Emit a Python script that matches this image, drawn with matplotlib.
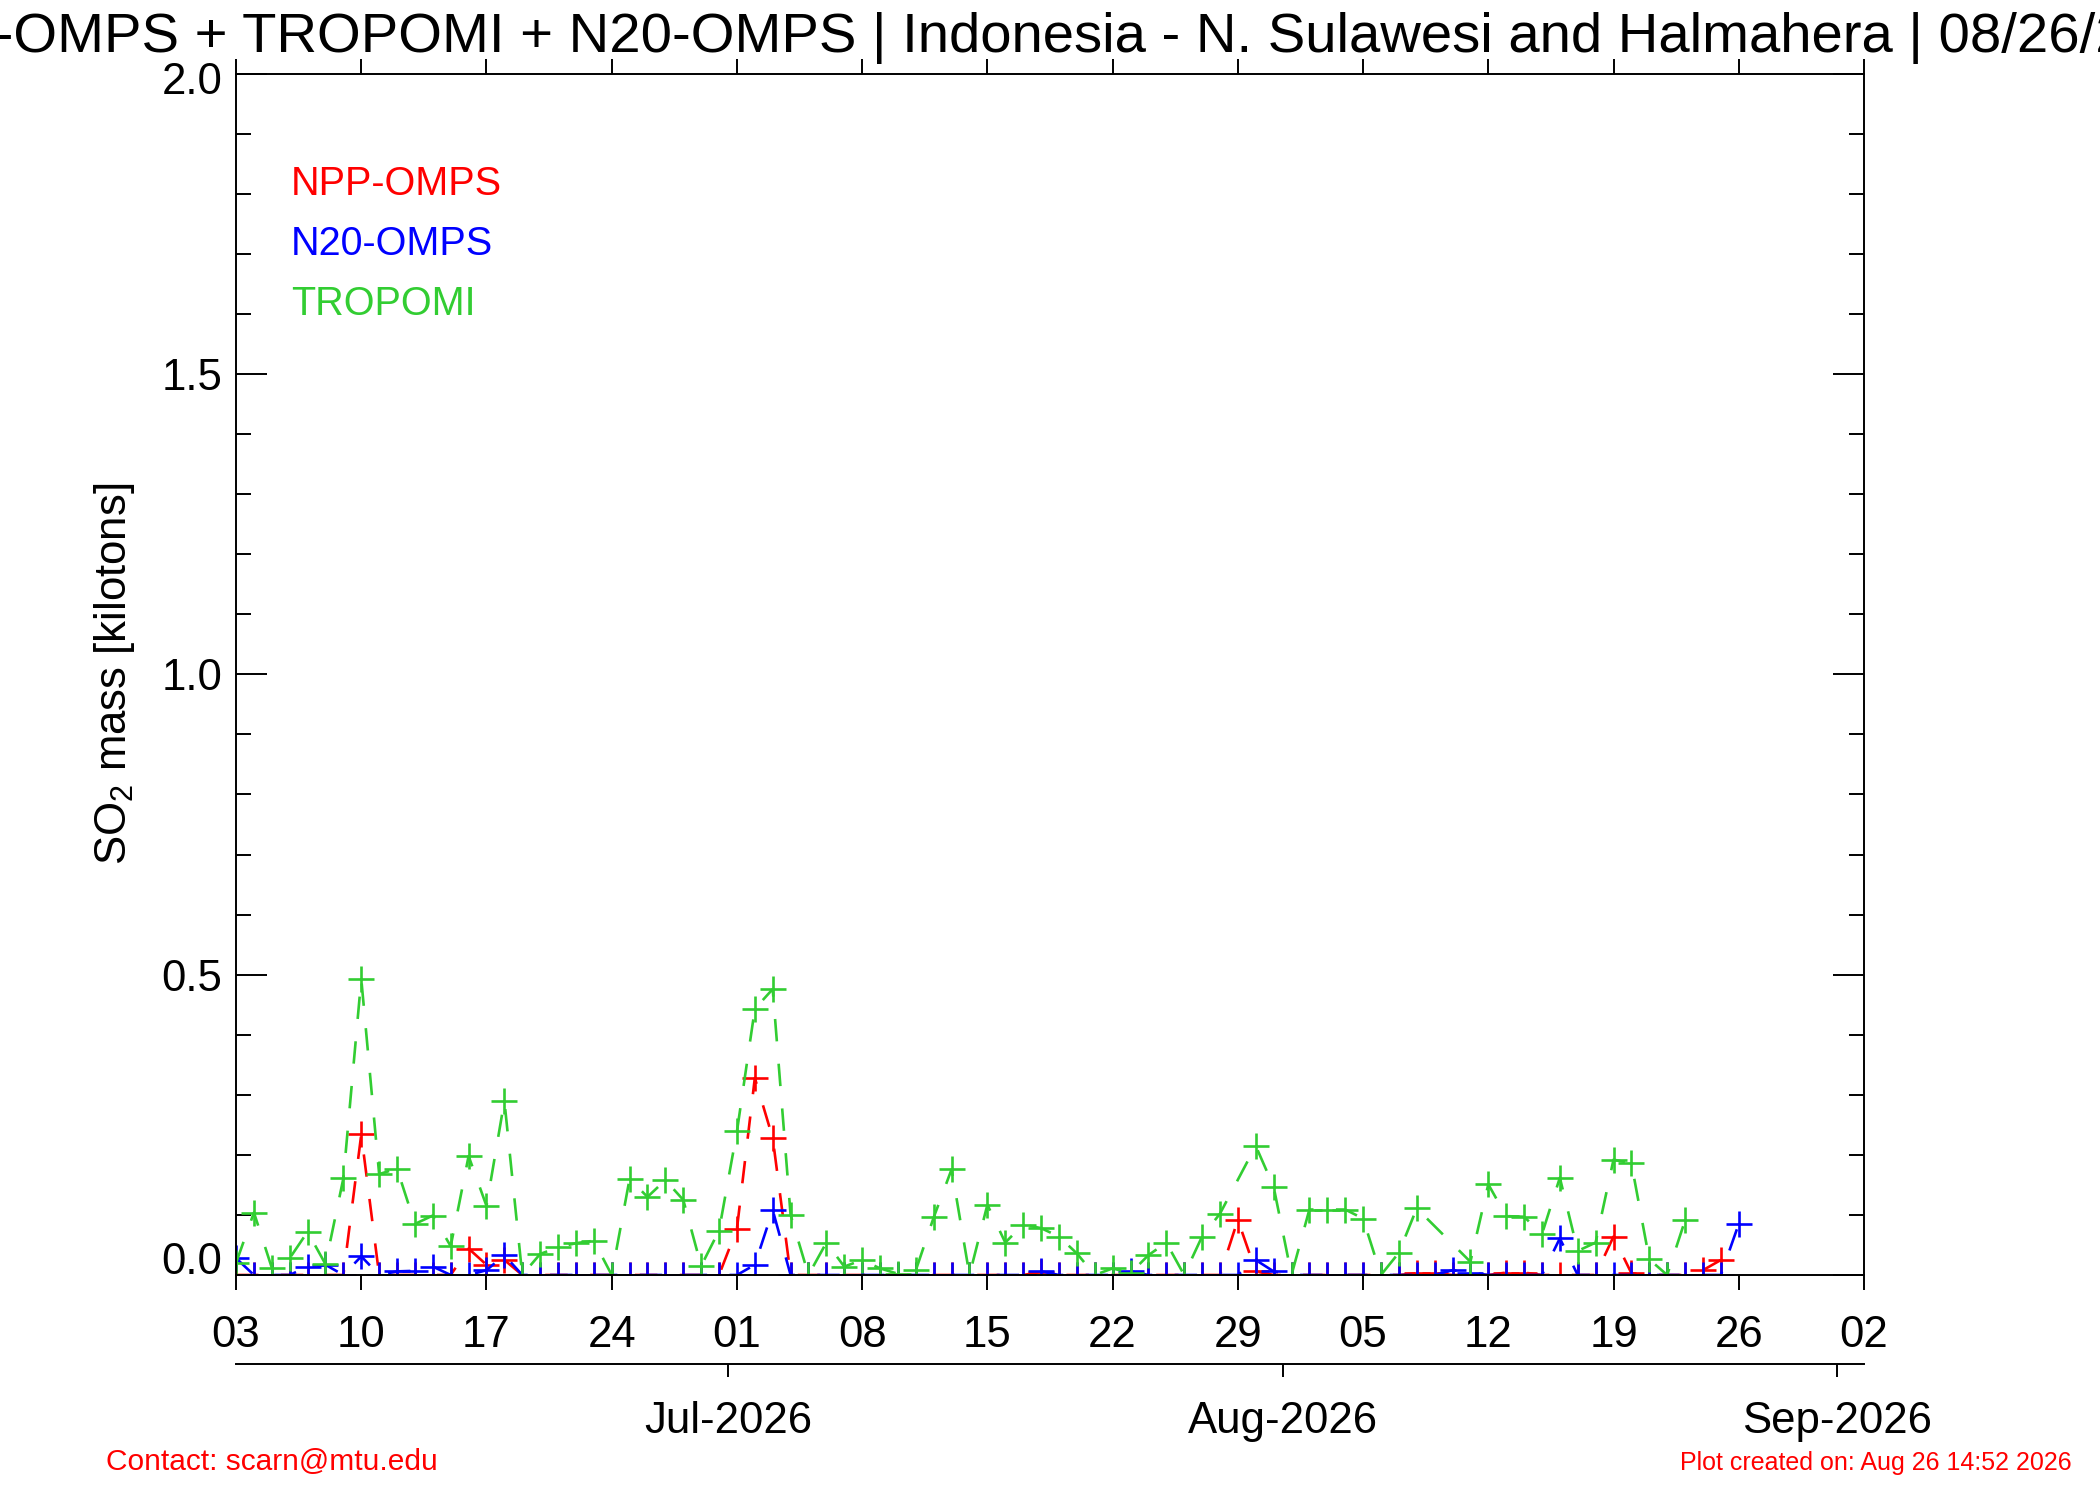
import numpy as np
import matplotlib
matplotlib.use('Agg')
import matplotlib.pyplot as plt
import matplotlib.dates as mdates
from matplotlib.ticker import FixedLocator, MultipleLocator, FuncFormatter

plt.rcParams['font.family'] = ['Liberation Sans', 'DejaVu Sans']
plt.rcParams['mathtext.default'] = 'regular'

# ---------------- data ----------------
dates = np.arange('2026-06-03', '2026-08-27', dtype='datetime64[D]')  # Jun 03 .. Aug 26

npp_omps = [0, 0, 0, 0, 0, 0, 0, 0.234, 0, 0,
            0, 0, 0, 0.044, 0.017, 0.025, 0, 0, 0, 0,
            0, 0, 0, 0, 0, 0, 0, 0, 0.077, 0.328,
            0.228, 0, 0, 0, 0, 0, 0, 0, 0, 0,
            0, 0, 0, 0, 0, 0.005, 0, 0, 0, 0,
            0, 0, 0, 0, 0, 0, 0.092, 0.006, 0, 0,
            0, 0, 0, 0, 0, 0, 0.003, 0.003, 0, 0,
            0, 0.004, 0.004, 0, 0, 0, 0, 0.064, 0.003, 0,
            0, 0, 0.008, 0.025, np.nan]

n20_omps = [0.028, 0, 0, 0, 0.014, 0.017, 0, 0.031, 0, 0.006,
            0.007, 0.014, 0, 0, 0.008, 0.033, 0, 0, 0, 0,
            0, 0, 0, 0, 0, 0, 0, 0, 0, 0.017,
            0.108, 0, 0, 0, 0, 0, 0, 0, 0, 0,
            0, 0, 0, 0, 0, 0.006, 0, 0, 0, 0,
            0.006, 0, 0, 0, 0, 0, 0, 0.025, 0.006, 0,
            0, 0, 0, 0, 0, 0, 0, 0, 0.008, 0.004,
            0, 0, 0, 0, 0.061, 0, 0, 0, 0, 0,
            0, 0, 0, 0, 0.085]

tropomi = [0.02, 0.104, 0.012, 0.028, 0.072, 0.018, 0.161, 0.493, 0.168, 0.177,
           0.085, 0.099, 0.048, 0.198, 0.115, 0.29, 0, 0.035, 0.046, 0.053,
           0.057, 0, 0.16, 0.13, 0.158, 0.125, 0.015, 0.074, 0.239, 0.443,
           0.476, 0.10, 0, 0.054, 0.014, 0.025, 0.011, 0.002, 0.008, 0.096,
           0.176, 0, 0.117, 0.054, 0.084, 0.078, 0.064, 0.036, 0, 0.011,
           0.003, 0.033, 0.054, 0, 0.064, 0.102, np.nan, 0.215, 0.147, 0,
           0.109, 0.109, 0.109, 0.094, 0, 0.037, 0.111, np.nan, np.nan, 0.022,
           0.151, 0.098, 0.097, 0.068, 0.162, 0.04, 0.054, 0.192, 0.186, 0.026,
           0, 0.091, np.nan, np.nan, np.nan]

series_names = ['NPP-OMPS', 'N20-OMPS', 'TROPOMI']
series_colors = ['#FF0000', '#0000FF', '#32CD32']

week_ticks = np.arange('2026-06-03', '2026-09-03', 7, dtype='datetime64[D]')
x_start = np.datetime64('2026-06-03')
x_end = np.datetime64('2026-09-02')
y_min, y_max = 0.0, 2.0
title = 'NPP-OMPS + TROPOMI + N20-OMPS | Indonesia - N. Sulawesi and Halmahera | 08/26/2026'

# ---------------- figure ----------------
fig = plt.figure(figsize=(21, 15), dpi=100)
ax = fig.add_axes([0.1124, 0.15, 0.7752, 0.8009])

lw = 1.9
data = {'NPP-OMPS': npp_omps, 'N20-OMPS': n20_omps, 'TROPOMI': tropomi}
draw_order = ['NPP-OMPS', 'N20-OMPS', 'TROPOMI']
for name in draw_order:
    vals = np.array(data[name], dtype=float)
    m = ~np.isnan(vals)
    col = series_colors[series_names.index(name)]
    ax.plot(dates[m], vals[m], color=col, lw=lw, linestyle=(0, (8.5, 8.5)),
            marker='+', markersize=19, markeredgewidth=lw, clip_on=True)

ax.set_xlim(x_start, x_end)
ax.set_ylim(y_min, y_max)

# x axis
ax.xaxis.set_major_locator(FixedLocator(mdates.date2num(week_ticks)))
ax.xaxis.set_major_formatter(mdates.DateFormatter('%d'))
ax.tick_params(axis='x', which='major', direction='out', length=10.5, width=1.4,
               top=True, bottom=True, labelsize=31.5, pad=18.5)

# y axis (end labels are nudged inside the axis range, as in the original)
def ylab(v, pos):
    if np.isclose(v, y_min) or np.isclose(v, y_max):
        return ''
    return '%.1f' % v

ax.yaxis.set_major_locator(MultipleLocator(0.5))
ax.yaxis.set_minor_locator(MultipleLocator(0.1))
ax.yaxis.set_major_formatter(FuncFormatter(ylab))
ax.tick_params(axis='y', which='major', direction='in', length=22, width=1.4,
               left=True, right=True, labelsize=31.5, pad=10)
ax.tick_params(axis='y', which='minor', direction='in', length=11, width=1.4,
               left=True, right=True)
for sp in ax.spines.values():
    sp.set_linewidth(1.4)

ytr = ax.get_yaxis_transform()
ax.annotate('%.1f' % y_min, xy=(0, y_min), xycoords=ytr, xytext=(-10, 9),
            textcoords='offset points', ha='right', va='center', fontsize=31.5)
ax.annotate('%.1f' % y_max, xy=(0, y_max), xycoords=ytr, xytext=(-10, -6.5),
            textcoords='offset points', ha='right', va='center', fontsize=31.5)

# secondary month axis (offset half a day)
sec = ax.secondary_xaxis(-0.074, functions=(lambda x: x + 0.5, lambda x: x - 0.5))
sec.xaxis.set_major_locator(mdates.MonthLocator())
sec.xaxis.set_major_formatter(mdates.DateFormatter('%b-%Y'))
sec.tick_params(axis='x', direction='out', length=9.5, width=1.4, labelsize=31.5, pad=17)
sec.spines['bottom'].set_linewidth(1.4)

# legend texts
leg_y = [0.899, 0.849, 0.799]
for name, yy in zip(series_names, leg_y):
    ax.text(0.0338, yy, name, transform=ax.transAxes,
            color=series_colors[series_names.index(name)],
            fontsize=28.5, ha='left', va='baseline')

# labels
fig.text(0.0545, 0.5507, 'SO$_2$ mass [kilotons]', rotation=90, ha='center', va='center',
         fontsize=31.5)
fig.text(0.5, 0.9655, title, ha='center', va='baseline', fontsize=40.5)
fig.text(106 / 2100, 0.02, 'Contact: scarn@mtu.edu', color='#FF0000', fontsize=21.5,
         ha='left', va='baseline')
fig.text(0.9863, 0.02, 'Plot created on: Aug 26 14:52 2026', color='#FF0000', fontsize=18,
         ha='right', va='baseline')

fig.savefig('out.png', dpi=100)
